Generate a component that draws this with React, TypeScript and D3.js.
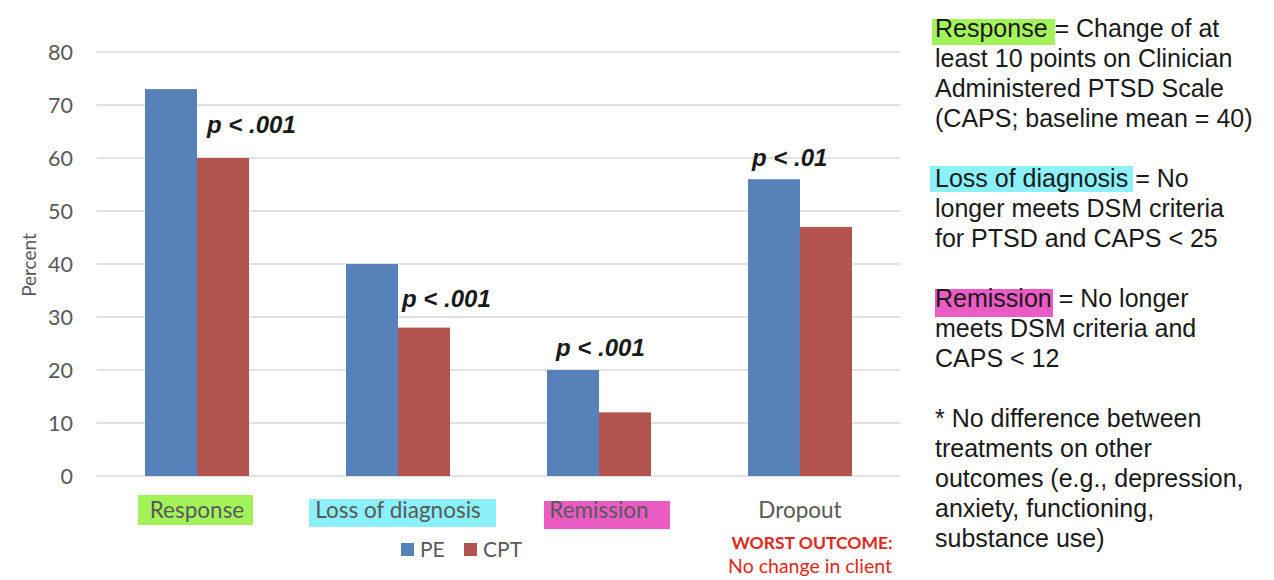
import React from "react";
import * as d3 from "d3";

const categories = ["Response", "Loss of diagnosis", "Remission", "Dropout"];
const seriesNames = ["PE", "CPT"];
const peValues = [73, 40, 20, 56];
const cptValues = [60, 28, 12, 47];
const yTicks = [0, 10, 20, 30, 40, 50, 60, 70, 80];
const pLabels = ["p < .001", "p < .001", "p < .001", "p < .01"];

// layout of annotations (not data)
const pLabelLayout = [
  { dx: 10, yv: 64.7 },
  { dx: 4, yv: 31.9 },
  { dx: -43, yv: 22.7 },
  { dx: -48, yv: 58.4 },
];
const catHighlights = ["#a4f25a", "#8cf0fb", "#ea5bc4", null];
const catHighlightBoxes = [
  { x0: -59, x1: 56, y0: 495, y1: 525 },
  { x0: -89, x1: 98, y0: 499, y1: 527 },
  { x0: -55, x1: 71, y0: 501, y1: 529 },
  null,
];

const colors = { PE: "#5681b9", CPT: "#b2534d" };

const notes = [
  { text: "Response", hl: "#a4f25a", rest: " = Change of at", box: [932, 19, 1055, 45] },
  { text: "least 10 points on Clinician" },
  { text: "Administered PTSD Scale" },
  { text: "(CAPS; baseline mean = 40)" },
  { text: "" },
  { text: "Loss of diagnosis", hl: "#8cf0fb", rest: " = No", box: [930, 166, 1133, 192] },
  { text: "longer meets DSM criteria" },
  { text: "for PTSD and CAPS < 25" },
  { text: "" },
  { text: "Remission", hl: "#ea5bc4", rest: " = No longer", box: [935, 289, 1053, 317] },
  { text: "meets DSM criteria and" },
  { text: "CAPS < 12" },
  { text: "" },
  { text: "* No difference between" },
  { text: "treatments on other" },
  { text: "outcomes (e.g., depression," },
  { text: "anxiety, functioning," },
  { text: "substance use)" },
];

export default function App() {
  const W = 1274, H = 580;
  const x = d3.scaleBand().domain(categories).range([96.5, 900.5]).paddingInner(0).paddingOuter(0);
  const bw = x.bandwidth();
  const x1 = d3.scaleBand().domain(seriesNames).range([0, bw]).paddingInner(0).paddingOuter((bw / 52 - 2) / 2);
  const y = d3.scaleLinear().domain([0, 80]).range([476, 52]);
  const values: Record<string, number[]> = { PE: peValues, CPT: cptValues };
  const catFont = "Lato, 'Open Sans', sans-serif";
  const arial = "'Liberation Sans', Arial, sans-serif";

  return (
    <div style={{ position: "absolute", left: 0, top: 0 }}>
      <svg width={W} height={H} style={{ display: "block", background: "#fff" }}>
        {/* gridlines */}
        {yTicks.map((t) => (
          <line key={t} x1={96.5} x2={900.5} y1={y(t)} y2={y(t)} stroke="#d9d9d9" strokeWidth={1.3} />
        ))}
        {/* tick labels */}
        {yTicks.map((t) => (
          <text key={"t" + t} x={73} y={y(t) + 7.5} textAnchor="end" fontFamily={catFont} fontSize={21.5} fill="#595959">
            {t}
          </text>
        ))}
        <text transform={`translate(36,265) rotate(-90)`} textAnchor="middle" fontFamily={catFont} fontSize={19} fill="#595959">
          Percent
        </text>
        {/* bars */}
        {categories.map((c, i) =>
          seriesNames.map((s) => (
            <rect
              key={c + s}
              x={(x(c) as number) + (x1(s) as number)}
              y={y(values[s][i])}
              width={x1.bandwidth()}
              height={y(0) - y(values[s][i])}
              fill={colors[s as "PE" | "CPT"]}
            />
          ))
        )}
        {/* p labels */}
        {categories.map((c, i) => (
          <text
            key={"p" + c}
            x={(x(c) as number) + bw / 2 + pLabelLayout[i].dx}
            y={y(pLabelLayout[i].yv)}
            fontFamily={arial}
            fontWeight="bold"
            fontStyle="italic"
            fontSize={24}
            fill="#1a1a1a"
          >
            {pLabels[i]}
          </text>
        ))}
        {/* category highlight + labels */}
        {categories.map((c, i) => {
          const cx = (x(c) as number) + bw / 2;
          const b = catHighlightBoxes[i];
          return (
            <g key={"c" + c}>
              {b && catHighlights[i] && (
                <rect x={cx + b.x0} y={b.y0} width={b.x1 - b.x0} height={b.y1 - b.y0} fill={catHighlights[i] as string} />
              )}
              <text x={cx} y={518} textAnchor="middle" fontFamily={catFont} fontSize={22.5} fill="#595959">
                {c}
              </text>
            </g>
          );
        })}
        {/* legend */}
        {seriesNames.map((s, i) => {
          const lx = i === 0 ? 401 : 464;
          return (
            <g key={"l" + s}>
              <rect x={lx} y={543} width={13} height={13} fill={colors[s as "PE" | "CPT"]} />
              <text x={lx + 19} y={557} fontFamily={catFont} fontSize={21} fill="#595959">
                {s}
              </text>
            </g>
          );
        })}
        {/* worst outcome */}
        <text x={812} y={549} textAnchor="middle" fontFamily={catFont} fontWeight="bold" fontSize={17.5} fill="#e2281d">
          WORST OUTCOME:
        </text>
        <text x={810} y={573} textAnchor="middle" fontFamily={catFont} fontSize={19.5} fill="#e2281d">
          No change in client
        </text>
        {/* notes */}
        {notes.map((n, i) =>
          n.box ? (
            <rect key={"b" + i} x={n.box[0]} y={n.box[1]} width={n.box[2] - n.box[0]} height={n.box[3] - n.box[1]} fill={n.hl} />
          ) : null
        )}
        {notes.map((n, i) => (
          <text key={"n" + i} x={935} y={37 + i * 30} fontFamily={arial} fontSize={25} fill="#1a1a1a">
            {n.text}
            {n.rest ? <tspan>{n.rest}</tspan> : null}
          </text>
        ))}
      </svg>
    </div>
  );
}
